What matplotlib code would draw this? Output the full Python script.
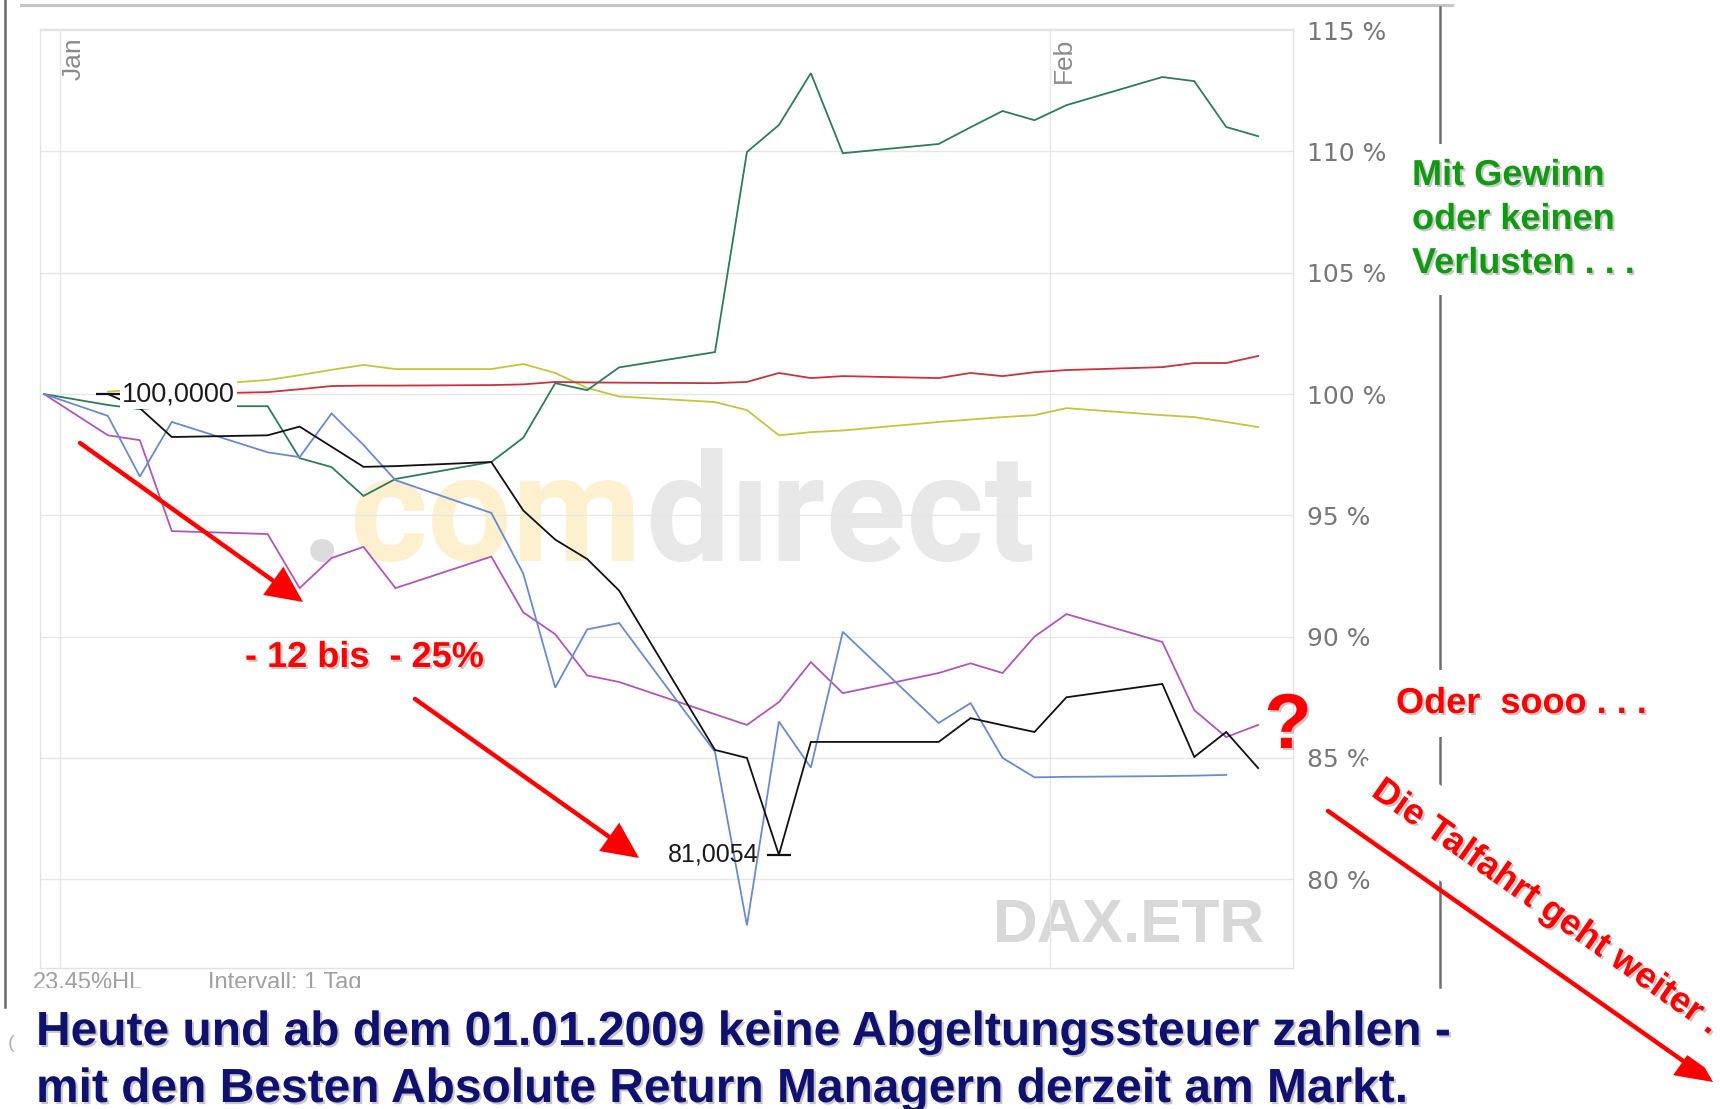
import numpy as np
import matplotlib
matplotlib.use("Agg")
import matplotlib.pyplot as plt
import matplotlib.patheffects as pe
from matplotlib.patches import FancyArrowPatch
from matplotlib.lines import Line2D
from matplotlib.transforms import Bbox, TransformedBbox

nan = np.nan

# ---------------- data (day index: 0 = 31 Dec, calendar days) ----------------
trading_days = [0, 2, 3, 4, 7, 8, 9, 10, 11, 14, 15, 16, 17, 18,
                21, 22, 23, 24, 25, 28, 29, 30, 31, 32, 35, 36, 37, 38]

green = [100, 99.55, 99.38, 99.5, 99.5, 97.36, 96.99, 95.8, 96.5, 97.2, 98.2, 100.45, 100.16, 101.1,
         101.73, 109.98, 111.09, 113.23, 109.93, 110.31, 111.0, 111.67, 111.29, 111.91, 113.07, 112.9, 111.01, 110.63]
red = [nan, 100.0, 100.0, 100.0, 100.08, 100.2, 100.33, 100.35, 100.35, 100.37, 100.4, 100.5, 100.48, 100.47,
       100.45, 100.5, 100.87, 100.66, 100.74, 100.66, 100.87, 100.74, 100.9, 100.99, 101.11, 101.28, 101.28, 101.57]
yellow = [nan, 100.1, 100.2, 100.3, 100.58, 100.78, 101.0, 101.2, 101.03, 101.03, 101.24, 100.87, 100.25, 99.9,
          99.67, 99.34, 98.3, 98.43, 98.5, 98.85, 98.95, 99.05, 99.13, 99.42, 99.13, 99.05, 98.85, 98.64]
magenta = [100, 98.3, 98.1, 94.35, 94.23, 92.0, 93.24, 93.7, 92.0, 93.3, 91.0, 90.1, 88.4, 88.13,
           86.8, 86.36, 87.3, 88.95, 87.67, 88.5, 88.9, 88.5, 90.0, 90.93, 89.78, 86.97, 85.86, 86.36]
blue = [100, 99.1, 96.6, 98.85, 97.6, 97.4, 99.2, 97.9, 96.45, 95.1, 92.6, 87.9, 90.3, 90.56,
        85.25, 78.1, 86.5, 84.6, 90.2, 86.44, 87.26, 85.0, 84.2, 84.22, 84.25, 84.27, 84.3, nan]
dax = [nan, 100, 99.42, 98.23, 98.3, 98.66, 97.83, 97.0, 97.03, 97.2, 95.2, 94.0, 93.2, 91.9,
       85.33, 85.0, 81.0054, 85.66, 85.66, 85.66, 86.64, 86.35, 86.07, 87.5, 88.05, 85.04, 86.07, 84.58]

month_days = [0.5, 31.5]
month_labels = ["Jan", "Feb"]
y_ticks = [80, 85, 90, 95, 100, 105, 110, 115]
y_tick_labels = ["80 %", "85 %", "90 %", "95 %", "100 %", "105 %", "110 %", "115 %"]

# ---------------- figure ----------------
W, H = 1720, 1109
fig = plt.figure(figsize=(W / 100, H / 100), dpi=100)
fig.patch.set_facecolor("white")


def fx(x):
    return x / W


def fy(y):
    return 1 - y / H


ax = fig.add_axes([fx(40), fy(968), (1293 - 40) / W, (968 - 29) / H])
ax.set_xlim(-0.125, 39.09)
ax.set_ylim(76.34, 115.05)
for s in ax.spines.values():
    s.set_color("#e2e2e2")
    s.set_linewidth(1)

for v in y_ticks:
    ax.axhline(v, color="#e6e6e6", lw=1, zorder=0.6)
for d, lbl in zip(month_days, month_labels):
    ax.axvline(d, color="#e6e6e6", lw=1, zorder=0.6)
    ax.annotate(lbl, xy=(d, 1), xycoords=ax.get_xaxis_transform(), xytext=(10, -6),
                textcoords="offset points", rotation=90, ha="center", va="top",
                fontsize=19, color="#8a8a8a", family="Liberation Sans")

ax.set_xticks([])
ax.yaxis.tick_right()
ax.set_yticks(y_ticks)
ax.set_yticklabels(y_tick_labels)
ax.tick_params(axis="y", length=0, pad=10, labelsize=18, labelcolor="#777777")

# watermark
r = fig.canvas.get_renderer()
wm_dir = ax.text(fx(645), fy(561), "d\u0131rect", transform=fig.transFigure, ha="left", va="baseline",
                 fontsize=100, family="Roboto", weight="bold", color="#e8e8e8", zorder=0.5)
wm_dir.set_fontsize(wm_dir.get_fontsize() * 390 / wm_dir.get_window_extent(r).width)
wm_com = ax.text(fx(641), fy(561), "com", transform=fig.transFigure, ha="right", va="baseline",
                 fontsize=wm_dir.get_fontsize(), family="Roboto", weight="bold", color="#fcf0cf", zorder=0.5)
com_left = wm_com.get_window_extent(r).x0
ax.text((com_left - 4) / W, fy(561), ".", transform=fig.transFigure, ha="right", va="baseline",
        fontsize=wm_dir.get_fontsize(), family="Roboto", weight="bold", color="#dcdcdc", zorder=0.5)
wm_dax = ax.text(fx(993), fy(942), "DAX.ETR", transform=fig.transFigure, ha="left", va="baseline",
                 fontsize=45, family="Liberation Sans", weight="bold", color="#d8d8d8", zorder=0.5)
wm_dax.set_fontsize(wm_dax.get_fontsize() * 272 / wm_dax.get_window_extent(r).width)

# series
x = np.array(trading_days, dtype=float)
series = [(yellow, "#c4c440"), (red, "#c8323c"), (green, "#2f7a5c"),
          (magenta, "#b056b8"), (blue, "#6a8ad0"), (dax, "#111111")]
for vals, col in series:
    ax.plot(x, np.array(vals, dtype=float), color=col, lw=1.3, zorder=2, solid_joinstyle="miter")

# DAX start & minimum labels
dax_arr = np.array(dax, dtype=float)
i0 = int(np.where(~np.isnan(dax_arr))[0][0])
imin = int(np.nanargmin(dax_arr))


def fmt(v):
    return f"{v:.4f}".replace(".", ",")


ax.plot([x[i0]], [dax_arr[i0]], marker="_", ms=17, mew=1.6, color="#111111", zorder=3)
ax.plot([x[imin]], [dax_arr[imin]], marker="_", ms=17, mew=1.6, color="#111111", zorder=3)
ax.annotate(fmt(dax_arr[i0]), xy=(x[i0], dax_arr[i0]), xytext=(10, 0), textcoords="offset points",
            ha="left", va="center", fontsize=19.5, family="Liberation Sans", color="#1a1a1a", zorder=5,
            bbox=dict(boxstyle="square,pad=0.08", fc="white", ec="none"))
ax.annotate(fmt(dax_arr[imin]), xy=(x[imin], dax_arr[imin]), xytext=(-15, 0), textcoords="offset points",
            ha="right", va="center", fontsize=18, family="Liberation Sans", color="#1a1a1a", zorder=5)

# ---------------- frame decorations ----------------
fig.add_artist(Line2D([fx(21), fx(1452)], [fy(5), fy(5)], lw=2.2, color="#c6c6c6", zorder=1))
fig.add_artist(Line2D([fx(5), fx(5)], [fy(0), fy(1007)], lw=1.8, color="#6a6a6a", zorder=1))
fig.add_artist(Line2D([fx(1440), fx(1440)], [fy(7), fy(987)], lw=1.8, color="#707070", zorder=1))

small = dict(fontsize=17, color="#a0a0a0", family="Liberation Sans", va="baseline", zorder=2)
clip = TransformedBbox(Bbox.from_extents(0, fy(988), 1, 1), fig.transFigure)
for xx, s in [(33, "23.45%HL"), (208, "Intervall: 1 Tag")]:
    t = fig.text(fx(xx), fy(989), s, **small)
    t.set_clip_box(clip)
    t.set_clip_on(True)
fig.text(fx(8), fy(1048), "(", fontsize=14, color="#b0b0b0", family="Liberation Sans", va="baseline")

# ---------------- annotations ----------------
shadow = [pe.withSimplePatchShadow(offset=(1.5, -1.5), shadow_rgbFace="#9a9a9a", alpha=0.55)]
RED = "#ff0000"
big = dict(family="Liberation Sans", weight="bold")

for (x0, y0), (x1, y1) in [((80, 443), (303, 602)), ((415, 699), (639, 858)), ((1328, 811), (1713, 1082))]:
    fig.add_artist(FancyArrowPatch((fx(x0), fy(y0)), (fx(x1), fy(y1)), transform=fig.transFigure,
                                   arrowstyle="-|>,head_length=1.05,head_width=0.5", mutation_scale=20,
                                   lw=3.2, color=RED, shrinkA=0, shrinkB=0, joinstyle="miter", zorder=4))

fig.text(fx(245), fy(667), "- 12 bis  - 25%", color=RED, fontsize=26, ha="left", va="baseline",
         path_effects=shadow, zorder=5, **big)
fig.text(fx(1396), fy(713), "Oder  sooo . . .", color=RED, fontsize=26, ha="left", va="baseline",
         path_effects=shadow, zorder=5, **big,
         bbox=dict(boxstyle="square,pad=0.45", fc="white", ec="none"))
fig.text(fx(1288), fy(748), "?", color=RED, fontsize=56, ha="center", va="baseline",
         path_effects=shadow, zorder=5, **big)
fig.text(fx(1370), fy(795), "Die Talfahrt geht weiter . . .", color=RED, fontsize=26, rotation=-35.2,
         rotation_mode="anchor", ha="left", va="baseline", path_effects=shadow, zorder=5, **big,
         bbox=dict(boxstyle="square,pad=0.6", fc="white", ec="none"))

for yy, s in [(185, "Mit Gewinn"), (229, "oder keinen"), (273, "Verlusten . . .")]:
    fig.text(fx(1412), fy(yy), s, color="#119a11", fontsize=26, ha="left", va="baseline",
             path_effects=shadow, zorder=5, **big,
             bbox=dict(boxstyle="square,pad=0.4", fc="white", ec="none"))

NAVY = "#10106e"
fig.text(fx(36), fy(1045), "Heute und ab dem 01.01.2009 keine Abgeltungssteuer zahlen -", color=NAVY,
         fontsize=34.5, ha="left", va="baseline", path_effects=shadow, zorder=5, **big)
fig.text(fx(36), fy(1102), "mit den Besten Absolute Return Managern derzeit am Markt.", color=NAVY,
         fontsize=34.5, ha="left", va="baseline", path_effects=shadow, zorder=5, **big)

fig.savefig("out.png", dpi=100, facecolor="white")
